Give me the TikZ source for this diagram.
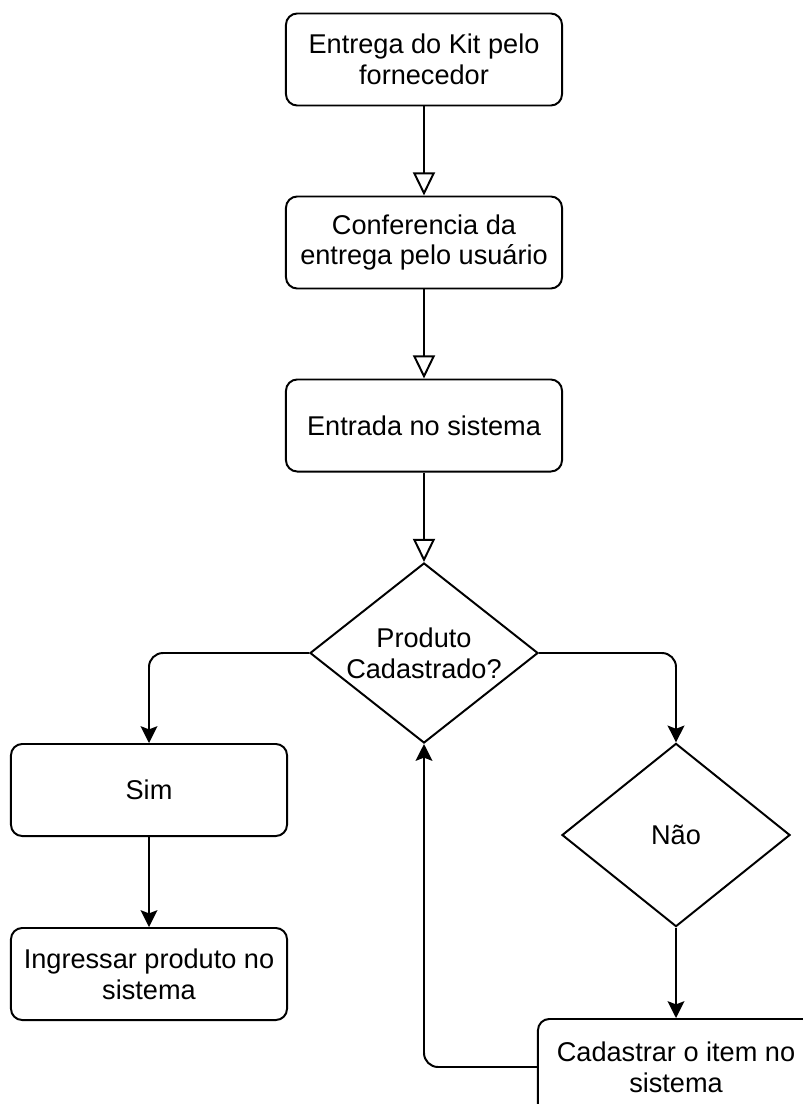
\documentclass[tikz,border=0pt]{standalone}
\usepackage{fontspec}
\setmainfont{Liberation Sans}
\usetikzlibrary{arrows.meta,shapes.geometric,positioning}

\begin{document}
\begin{tikzpicture}[
  x=0.025cm,
  y=-0.025cm,
  line width=1.4pt,
  every node/.style={
    font=\fontsize{19.3}{22}\selectfont
  },
  etapa/.style={
    draw=black,
    fill=white,
    rounded corners=8pt,
    minimum width=6.9cm,
    minimum height=2.3cm,
    inner sep=0pt,
    align=center
  },
  decisao/.style={
    draw=black,
    fill=white,
    diamond,
    aspect=1.27,
    inner sep=0pt,
    minimum width=5.7cm,
    minimum height=4.5cm,
    align=center
  },
  aberta/.style={
    -{Triangle[open,fill=white,length=0.58cm,width=0.55cm]},
    black
  },
  fluxo/.style={
    -{Stealth[length=0.42cm,width=0.42cm,inset=0.08cm]},
    black
  }
]

\useasboundingbox (0,0) rectangle (802,1104);

% Coluna principal
\node[etapa] (entrega) at (424,59.5)
  {Entrega do Kit pelo\\fornecedor};

\node[etapa] (conferencia) at (424,242.5)
  {Conferencia da\\entrega pelo usuário};

\node[etapa] (entrada) at (424,425.5)
  {Entrada no sistema};

\node[decisao] (produto) at (424,653)
  {Produto\\Cadastrado?};

% Ramo esquerdo
\node[etapa] (sim) at (149,790)
  {Sim};

\node[etapa] (ingressar) at (149,974)
  {Ingressar produto no\\sistema};

% Ramo direito
\node[decisao, aspect=1.25, minimum height=4.58cm] (nao) at (676,835)
  {Não};

\node[etapa, minimum height=2.4cm] (cadastrar) at (676,1067)
  {Cadastrar o item no\\sistema};

\draw[aberta]
  (entrega) -- (conferencia);

\draw[aberta]
  (conferencia) -- (entrada);

\draw[aberta]
  (entrada) -- (produto);

\draw[fluxo, rounded corners=10pt]
  (produto.west) -| (sim.north);

\draw[fluxo, rounded corners=10pt]
  (produto.east) -| (nao.north);

\draw[fluxo]
  (sim) -- (ingressar);

\draw[fluxo]
  (nao.south) -- (cadastrar.north);

% Retorno para a decisao
\draw[fluxo, rounded corners=10pt]
  (cadastrar.west) -| (produto.south);

\end{tikzpicture}
\end{document}
